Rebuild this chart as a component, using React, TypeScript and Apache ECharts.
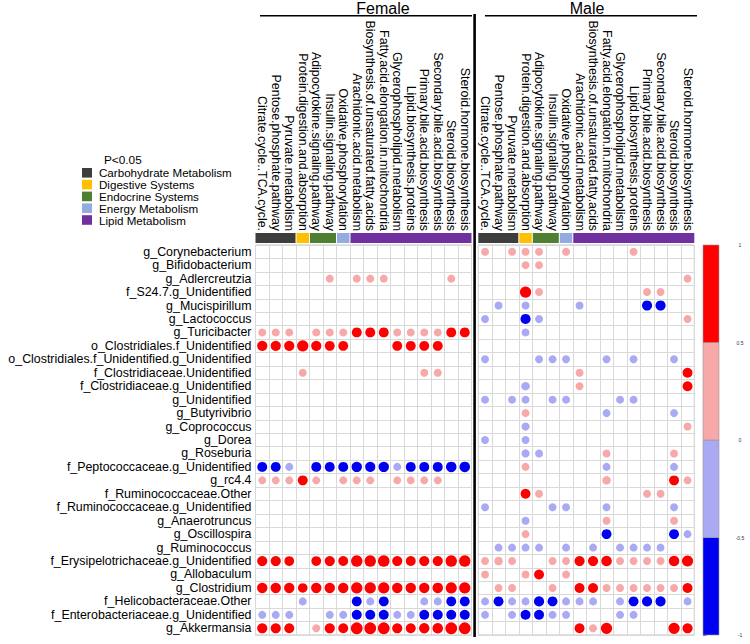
import React, { useEffect, useRef } from 'react';
import * as echarts from 'echarts';

const rows = [
  'g_Corynebacterium', 'g_Bifidobacterium', 'g_Adlercreutzia', 'f_S24.7.g_Unidentified',
  'g_Mucispirillum', 'g_Lactococcus', 'g_Turicibacter', 'o_Clostridiales.f_Unidentified',
  'o_Clostridiales.f_Unidentified.g_Unidentified', 'f_Clostridiaceae.Unidentified',
  'f_Clostridiaceae.g_Unidentified', 'g_Unidentified', 'g_Butyrivibrio', 'g_Coprococcus',
  'g_Dorea', 'g_Roseburia', 'f_Peptococcaceae.g_Unidentified', 'g_rc4.4',
  'f_Ruminococcaceae.Other', 'f_Ruminococcaceae.g_Unidentified', 'g_Anaerotruncus',
  'g_Oscillospira', 'g_Ruminococcus', 'f_Erysipelotrichaceae.g_Unidentified', 'g_Allobaculum',
  'g_Clostridium', 'f_Helicobacteraceae.Other', 'f_Enterobacteriaceae.g_Unidentified', 'g_Akkermansia'
];

const columns = [
  'Citrate.cycle..TCA.cycle.', 'Pentose.phosphate.pathway', 'Pyruvate.metabolism',
  'Protein.digestion.and.absorption', 'Adipocytokine.signaling.pathway', 'Insulin.signaling.pathway',
  'Oxidative.phosphorylation', 'Arachidonic.acid.metabolism', 'Biosynthesis.of.unsaturated.fatty.acids',
  'Fatty.acid.elongation.in.mitochondria', 'Glycerophospholipid.metabolism', 'Lipid.biosynthesis.proteins',
  'Primary.bile.acid.biosynthesis', 'Secondary.bile.acid.biosynthesis', 'Steroid.biosynthesis',
  'Steroid.hormone.biosynthesis'
];

const categoryNames = ['Carbohydrate Metabolism', 'Digestive Systems', 'Endocrine Systems', 'Energy Metabolism', 'Lipid Metabolism'];
const categoryColors = ['#3d3d3d', '#ffc000', '#4f7f30', '#93acdf', '#7030a0'];
const categorySpans = [[0, 2], [3, 3], [4, 5], [6, 6], [7, 15]];

const groupTitles = ['Female', 'Male'];

const femaleValues = [
  [0, 0, 0, 0, 0, 0, 0, 0, 0, 0, 0, 0, 0, 0, 0, 0],
  [0, 0, 0, 0, 0, 0, 0, 0, 0, 0, 0, 0, 0, 0, 0, 0],
  [0, 0, 0, 0, 0, 0.4, 0, 0.4, 0.4, 0.4, 0, 0, 0, 0, 0.4, 0],
  [0, 0, 0, 0, 0, 0, 0, 0, 0, 0, 0, 0, 0, 0, 0, 0],
  [0, 0, 0, 0, 0, 0, 0, 0, 0, 0, 0, 0, 0, 0, 0, 0],
  [0, 0, 0, 0, 0, 0, 0, 0, 0, 0, 0, 0, 0, 0, 0, 0],
  [0.4, 0.4, 0.4, 0, 0.4, 0.4, 0.4, 0.62, 0.62, 0.62, 0.4, 0.4, 0.4, 0.4, 0.62, 0.62],
  [0.65, 0.65, 0.65, 0.8, 0.65, 0.62, 0.62, 0, 0, 0, 0.62, 0.62, 0.62, 0.62, 0, 0],
  [0, 0, 0, 0, 0, 0, 0, 0, 0, 0, 0, 0, 0, 0, 0, 0],
  [0, 0, 0, 0.4, 0, 0, 0, 0, 0, 0, 0, 0, 0.4, 0.4, 0, 0],
  [0, 0, 0, 0, 0, 0, 0, 0, 0, 0, 0, 0, 0, 0, 0, 0],
  [0, 0, 0, 0, 0, 0, 0, 0, 0, 0, 0, 0, 0, 0, 0, 0],
  [0, 0, 0, 0, 0, 0, 0, 0, 0, 0, 0, 0, 0, 0, 0, 0],
  [0, 0, 0, 0, 0, 0, 0, 0, 0, 0, 0, 0, 0, 0, 0, 0],
  [0, 0, 0, 0, 0, 0, 0, 0, 0, 0, 0, 0, 0, 0, 0, 0],
  [0, 0, 0, 0, 0, 0, 0, 0, 0, 0, 0, 0, 0, 0, 0, 0],
  [-0.62, -0.62, -0.4, 0, -0.62, -0.62, -0.62, -0.68, -0.65, -0.68, -0.4, -0.62, -0.62, -0.62, -0.7, -0.7],
  [0.4, 0.4, 0.4, 0.62, 0.4, 0, 0.4, 0.4, 0.4, 0, 0.4, 0.4, 0.4, 0.4, 0, 0],
  [0, 0, 0, 0, 0, 0, 0, 0, 0, 0, 0, 0, 0, 0, 0, 0],
  [0, 0, 0, 0, 0, 0, 0, 0, 0, 0, 0, 0, 0, 0, 0, 0],
  [0, 0, 0, 0, 0, 0, 0, 0, 0, 0, 0, 0, 0, 0, 0, 0],
  [0, 0, 0, 0, 0, 0, 0, 0, 0, 0, 0, 0, 0, 0, 0, 0],
  [0, 0, 0, 0, 0, 0, 0, 0, 0, 0, 0, 0, 0, 0, 0, 0],
  [0.65, 0.65, 0.6, 0, 0.6, 0.65, 0.62, 0.82, 0.82, 0.85, 0.65, 0.62, 0.65, 0.65, 0.82, 0.82],
  [0, 0, 0, 0, 0, 0, 0, 0, 0, 0, 0, 0, 0, 0, 0, 0],
  [0.68, 0.68, 0.68, 0.58, 0.68, 0.68, 0.68, 0.8, 0.8, 0.8, 0.68, 0.68, 0.68, 0.7, 0.78, 0.8],
  [0, 0, 0, -0.4, 0, 0, 0, -0.62, -0.4, -0.62, 0, 0, -0.4, -0.4, -0.62, -0.62],
  [-0.4, -0.4, -0.4, 0, 0, -0.4, -0.4, -0.62, -0.62, -0.62, -0.4, -0.4, -0.62, -0.62, -0.62, -0.62],
  [0.65, 0.65, 0.62, 0, 0.4, 0.65, 0.62, 0.88, 0.88, 0.88, 0.65, 0.62, 0.68, 0.7, 0.88, 0.88]
];

const maleValues = [
  [0.4, 0, 0.4, 0.4, 0.4, 0, 0.4, 0, 0, 0, 0, 0.4, 0, 0, 0, 0],
  [0, 0, 0, 0.4, 0.4, 0, 0, 0, 0, 0, 0, 0, 0, 0, 0, 0],
  [0, 0, 0, 0, 0, 0, 0, 0, 0, 0, 0, 0, 0, 0, 0, 0.4],
  [0, 0, 0, 0.8, 0.4, 0, 0, 0, 0, 0, 0, 0, 0.4, 0.4, 0, 0],
  [0, -0.4, 0, -0.4, 0, 0, 0, -0.4, 0, 0, 0, 0, -0.65, -0.65, 0, 0],
  [-0.4, 0, 0, -0.65, -0.4, 0, 0, 0, 0, 0, 0, 0, 0, 0, 0, 0.4],
  [0, 0, 0, -0.4, 0, 0, 0, 0, 0, 0, 0, 0, 0, 0, 0, 0],
  [0, 0, 0, 0, 0, 0, 0, 0, 0, 0, 0, 0, 0, 0, 0, 0],
  [-0.4, 0, 0, 0, -0.4, -0.4, -0.4, 0, 0, -0.4, 0, -0.4, 0, 0, -0.4, 0],
  [0, 0, 0, 0, 0, 0, 0, 0.4, 0, 0, 0, 0, 0, 0, 0, 0.62],
  [0, 0, 0, -0.45, 0, 0, 0, 0.4, 0, 0, 0, 0, 0, 0, 0, 0.62],
  [-0.4, 0, -0.4, -0.4, 0, -0.4, -0.4, 0, 0, 0, -0.4, -0.4, 0, 0, 0, 0],
  [0, 0, 0, 0.4, 0, 0, 0, 0, 0, -0.4, 0, 0, 0, 0, -0.4, 0],
  [0, 0, 0, -0.42, 0, 0, 0, 0, 0, 0, 0, 0, 0, 0, 0, 0.4],
  [-0.4, 0, 0, -0.4, 0, 0, 0, 0, 0, 0, 0, 0, 0, 0, 0, 0],
  [0, 0, 0, -0.42, -0.4, 0, 0, 0, 0, 0.4, 0, 0, 0, 0, 0.4, 0],
  [0, 0, 0, 0.4, 0, 0, 0, 0, 0, -0.4, 0, 0, 0, 0, -0.4, 0],
  [0, 0, 0, 0, 0, 0, 0, 0, 0, 0.45, 0, 0, 0, 0, 0.62, 0.4],
  [0, 0, 0, 0.62, 0.4, 0, 0, 0, 0, 0, 0, 0, 0.4, 0.4, 0, 0],
  [-0.4, 0, 0, 0, 0, -0.4, -0.4, 0, 0, -0.4, 0, 0, 0, 0, -0.4, 0],
  [0, 0, 0, -0.4, 0, 0, 0, 0, 0, 0.4, 0, 0, 0, 0, 0.4, 0],
  [0, 0, 0, 0.4, 0, 0, 0, 0, 0, -0.62, 0, 0, 0, 0, -0.62, -0.4],
  [0, -0.4, -0.4, -0.4, -0.4, 0, -0.4, 0, -0.4, 0, -0.4, -0.4, -0.4, -0.4, 0, 0],
  [0.4, 0.45, 0.4, 0, 0, 0.4, 0.4, 0.65, 0.65, 0.7, 0.4, 0.4, 0.4, 0.4, 0.7, 0.78],
  [0.4, 0, 0, 0.4, 0.62, 0, 0.4, 0, 0, 0, 0, 0, 0, 0, 0, 0],
  [0, 0.4, 0.4, 0, 0, 0.4, 0, 0.62, 0.62, 0.4, 0.4, 0.4, 0.4, 0.4, 0.4, 0.62],
  [-0.4, -0.62, -0.4, -0.4, -0.65, -0.62, -0.4, -0.4, -0.4, 0, -0.4, -0.62, -0.65, -0.65, 0, -0.4],
  [-0.4, 0, -0.4, -0.62, -0.62, -0.4, -0.4, 0, 0, 0, -0.4, -0.4, 0, 0, 0, 0],
  [0, 0, 0, 0, 0, 0, 0, 0.62, 0.4, 0.8, 0, 0, 0, 0, 0.8, 0.65]
];

const colorBins = [
  { lo: -1, hi: -0.5, color: '#0000f0' },
  { lo: -0.5, hi: 0, color: '#a9a9f4' },
  { lo: 0, hi: 0.5, color: '#f7a8a8' },
  { lo: 0.5, hi: 1, color: '#ff0000' }
];

const FONT = 'Liberation Sans, Arial, Helvetica, sans-serif';

function toPoints(values: number[][]) {
  const out: number[][] = [];
  values.forEach((row, r) => row.forEach((v, c) => { if (v !== 0) out.push([c, r, v]); }));
  return out;
}

export default function App() {
  const ref = useRef<HTMLDivElement>(null);
  useEffect(() => {
    if (!ref.current) return;
    const chart = echarts.init(ref.current, null, { renderer: 'svg' });

    const gridW = 216, gridH = 390, gridTop = 245;
    const lefts = [255.5, 478.3];

    const mainX = (i: number) => ({
      type: 'category', gridIndex: i, data: columns, position: 'top',
      axisLine: { show: false }, axisTick: { show: false },
      axisLabel: { rotate: 90, margin: 14, fontSize: 12.4, color: '#000', fontFamily: FONT, interval: 0 },
      splitLine: { show: true, interval: 0, lineStyle: { color: '#d9d9d9', width: 1 } }
    });
    const mainY = (i: number) => ({
      type: 'category', gridIndex: i, data: rows, inverse: true,
      axisLine: { show: false }, axisTick: { show: false },
      axisLabel: { show: i === 0, margin: 4, fontSize: 12.4, color: '#000', fontFamily: FONT, interval: 0 },
      splitLine: { show: true, interval: 0, lineStyle: { color: '#d9d9d9', width: 1 } }
    });
    const catX = (i: number) => ({ type: 'category', gridIndex: i, data: columns, show: false });
    const catY = (i: number) => ({ type: 'value', gridIndex: i, min: 0, max: 1, show: false });

    const catRender = (params: any, api: any) => {
      const s = api.value(0), e = api.value(1), ci = api.value(2);
      const p0 = api.coord([s, 0]);
      const p1 = api.coord([e, 1]);
      const bw = api.size([1, 0])[0];
      const first = s === 0;
      const last = e === columns.length - 1;
      const x = p0[0] - bw / 2 + (first ? 0 : 0.5);
      const w = p1[0] - p0[0] + bw - (first ? 0 : 0.5) - (last ? 0 : 0.5);
      return { type: 'rect', shape: { x, y: p1[1], width: w, height: p0[1] - p1[1] }, style: { fill: categoryColors[ci] } };
    };
    const catData = categorySpans.map((s, i) => [s[0], s[1], i]);

    const graphic: any[] = [];
    const headerLines = [[260, 472], [485, 697]];
    const headerCenters = [383, 587];
    groupTitles.forEach((t, i) => {
      graphic.push({ type: 'text', x: headerCenters[i], y: 8.5, style: { text: t, fontSize: 16, fontFamily: FONT, fill: '#000', align: 'center', verticalAlign: 'middle' } });
      graphic.push({ type: 'line', shape: { x1: headerLines[i][0], y1: 15.7, x2: headerLines[i][1], y2: 15.7 }, style: { stroke: '#000', lineWidth: 1.5 } });
    });
    graphic.push({ type: 'line', shape: { x1: 474.6, y1: 14, x2: 474.6, y2: 637 }, style: { stroke: '#000', lineWidth: 2.6 }, z: 100 });
    graphic.push({ type: 'text', x: 104, y: 159.5, style: { text: 'P<0.05', fontSize: 11.8, lineHeight: 11, fontFamily: FONT, fill: '#000', verticalAlign: 'middle' } });
    categoryNames.forEach((n, i) => {
      const cy = 172.8 + i * 11.8;
      graphic.push({ type: 'rect', shape: { x: 82, y: cy - 4.8, width: 10, height: 9.6 }, style: { fill: categoryColors[i] } });
      graphic.push({ type: 'text', x: 99, y: cy, style: { text: n, fontSize: 11.6, lineHeight: 10.5, fontFamily: FONT, fill: '#000', verticalAlign: 'middle' } });
    });

    const option: any = {
      animation: false,
      backgroundColor: '#fff',
      textStyle: { fontFamily: FONT },
      grid: [
        { left: lefts[0], top: gridTop, width: gridW, height: gridH, show: true, borderColor: '#c4c4c4', borderWidth: 1, containLabel: false },
        { left: lefts[1], top: gridTop, width: gridW, height: gridH, show: true, borderColor: '#c4c4c4', borderWidth: 1, containLabel: false },
        { left: lefts[0], top: 233, width: gridW, height: 10 },
        { left: lefts[1], top: 233, width: gridW, height: 10 },
        { left: 703, top: gridTop, width: 16, height: gridH }
      ],
      xAxis: [mainX(0), mainX(1), catX(2), catX(3), { type: 'value', gridIndex: 4, min: 0, max: 1, show: false }],
      yAxis: [mainY(0), mainY(1), catY(2), catY(3), {
        type: 'value', gridIndex: 4, min: -1, max: 1, interval: 0.5, position: 'right',
        axisLine: { show: false },
        axisTick: { show: true, length: 3.5, lineStyle: { color: '#555', width: 0.8 } },
        axisLabel: { fontSize: 5, color: '#333', margin: 21, align: 'center', fontFamily: FONT },
        splitLine: { show: false }
      }],
      visualMap: {
        type: 'piecewise', show: false, dimension: 2, seriesIndex: [0, 1],
        pieces: colorBins.map((b) => (b.lo === -1 ? { gte: b.lo, lte: b.hi, color: b.color } : { gt: b.lo, lte: b.hi, color: b.color }))
      },
      series: [
        { type: 'scatter', xAxisIndex: 0, yAxisIndex: 0, data: toPoints(femaleValues), symbol: 'circle',
          symbolSize: (d: number[]) => 12.6 * Math.sqrt(Math.abs(d[2])), itemStyle: { opacity: 1 }, z: 5 },
        { type: 'scatter', xAxisIndex: 1, yAxisIndex: 1, data: toPoints(maleValues), symbol: 'circle',
          symbolSize: (d: number[]) => 12.6 * Math.sqrt(Math.abs(d[2])), itemStyle: { opacity: 1 }, z: 5 },
        { type: 'custom', xAxisIndex: 2, yAxisIndex: 2, data: catData, renderItem: catRender, silent: true },
        { type: 'custom', xAxisIndex: 3, yAxisIndex: 3, data: catData, renderItem: catRender, silent: true },
        { type: 'custom', xAxisIndex: 4, yAxisIndex: 4, silent: true,
          data: colorBins.map((b, i) => [b.lo, b.hi, i]),
          renderItem: (params: any, api: any) => {
            const lo = api.value(0), hi = api.value(1), ci = api.value(2);
            const a = api.coord([0, hi]);
            const b = api.coord([1, lo]);
            return { type: 'rect', shape: { x: a[0], y: a[1], width: b[0] - a[0], height: b[1] - a[1] },
              style: { fill: colorBins[ci].color, stroke: '#999', lineWidth: 0.6 } };
          } }
      ],
      graphic
    };
    chart.setOption(option);
    return () => chart.dispose();
  }, []);

  return <div ref={ref} style={{ position: 'fixed', left: 0, top: 0, width: 750, height: 644 }} />;
}
